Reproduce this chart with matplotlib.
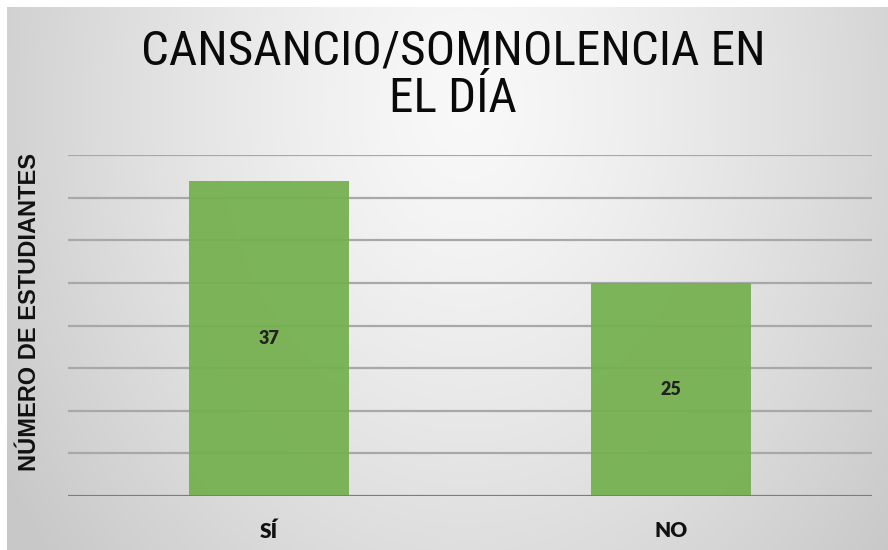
import numpy as np
import matplotlib
matplotlib.use("Agg")
import matplotlib.pyplot as plt
from matplotlib import font_manager
from matplotlib.font_manager import FontProperties

categories = ["SÍ", "NO"]
values = [37, 25]
title_text = "CANSANCIO/SOMNOLENCIA EN\nEL DÍA"
ylabel_text = "NÚMERO DE ESTUDIANTES"

# look for a narrow/condensed sans for the title
cands = []
for f in font_manager.fontManager.ttflist:
    nm = (f.name + " " + str(f.fname)).lower()
    narrow = ("narrow" in nm) or ("condensed" in nm) or (str(f.stretch) in ("condensed", "semi-condensed", "extra-condensed"))
    if narrow and f.weight in (400, "normal", "regular") and f.style == "normal":
        score = 0
        if "liberation" in nm: score = 5
        elif "roboto" in nm: score = 4
        elif "dejavu" in nm: score = 3
        elif "open" in nm: score = 2
        else: score = 1
        if "semi" in nm or "extra" in nm: score -= 0.5
        cands.append((score, f.fname, f.name))
cands.sort(reverse=True)
if cands:
    title_fp = FontProperties(fname=cands[0][1], size=35.5)
else:
    title_fp = FontProperties(family="Liberation Sans", size=30)

W, H = 888, 550
fig = plt.figure(figsize=(W / 100, H / 100), dpi=100)
fig.patch.set_facecolor("white")

# background gradient
bg = fig.add_axes([7 / W, 0, 1 - 7 / W, 1 - 7 / H], zorder=0)
ny, nx = 300, 480
yy, xx = np.mgrid[0:ny, 0:nx]
cx, cy = 0.52 * nx, 0.18 * ny
r = np.sqrt(((xx - cx) / (0.62 * nx)) ** 2 + ((yy - cy) / (1.3 * ny)) ** 2)
r = np.clip(r, 0, 1)
val = 0.975 - 0.19 * r ** 1.3
img = np.dstack([val, val, val])
bg.imshow(img, aspect="auto", extent=[0, 1, 0, 1], origin="upper")
bg.set_axis_off()

ax = fig.add_axes([68 / W, 1 - 496 / H, (872 - 68) / W, (496 - 155) / H], zorder=1)
ax.patch.set_alpha(0)
x = np.arange(len(categories))
ax.set_xlim(-0.5, len(categories) - 0.5)
ax.set_ylim(0, 40)
ax.set_yticks(np.arange(0, 41, 5))
ax.yaxis.grid(True, color="#a8a8a8", linewidth=1.6, zorder=0)
ax.set_axisbelow(True)
bars = ax.bar(x, values, width=0.4, color="#74b04e", alpha=0.93, zorder=2)
ax.axhline(0, color="#7d7d7d", linewidth=2.2, zorder=3)
for s in ax.spines.values():
    s.set_visible(False)
ax.tick_params(axis="y", length=0, labelleft=False)
ax.tick_params(axis="x", length=0, pad=18)
ax.set_xticks(x)
ax.set_xticklabels(categories, fontsize=15, fontweight="heavy", family="Lato", color="#111111")
for xi, v in zip(x, values):
    ax.text(xi, v / 2, str(v), ha="center", va="center", fontsize=13,
            fontweight="heavy", family="Lato", color="#222222", zorder=4)

fig.text(30 / W, 1 - 312 / H, ylabel_text, rotation=90, ha="center", va="center",
         fontsize=17, fontweight="bold", family="Liberation Sans", color="#111111")

fig.text(453 / W, 1 - 75 / H, title_text, ha="center", va="center",
         fontproperties=title_fp, color="#0a0a0a", linespacing=1.05)

fig.savefig("out.png", dpi=100)
